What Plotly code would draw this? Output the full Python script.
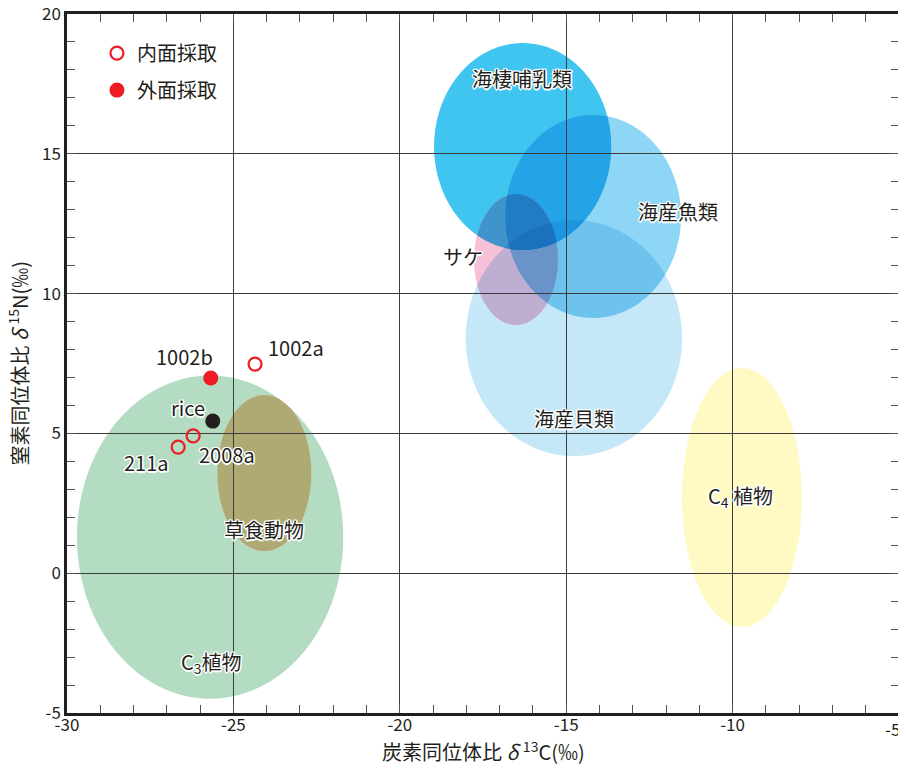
import numpy as np
import plotly.graph_objects as go
from itertools import combinations

# ---- axes ----
x_range = [-30, -5]
y_range = [-5, 20]
x_ticks = [-30, -25, -20, -15, -10, -5]
y_ticks = [-5, 0, 5, 10, 15, 20]
x_ticklabels = ["-30", "-25", "-20", "-15", "-10", "-5"]
y_ticklabels = ["-5", "0", "5", "10", "15", "20"]
x_minor = list(range(-30, -4))
y_minor = list(range(-5, 21))

# ---- regions (ellipses: center, radii) ----
region_names = ["C3植物", "草食動物", "C4植物", "海産貝類", "海産魚類", "海棲哺乳類", "サケ"]
region_cx = [-25.70, -24.07, -9.72, -14.77, -14.19, -16.31, -16.51]
region_cy = [1.29, 3.58, 2.71, 8.41, 12.76, 15.26, 11.22]
region_rx = [4.00, 1.41, 1.80, 3.25, 2.64, 2.66, 1.26]
region_ry = [5.78, 2.79, 4.63, 4.22, 3.63, 3.70, 2.34]
region_rgb = [(179, 220, 195), (250, 197, 150), (255, 249, 196), (197, 232, 248),
              (142, 214, 245), (64, 196, 240), (246, 192, 216)]
label_text = ["C<sub>3</sub>植物", "草食動物", "C<sub>4</sub> 植物", "海産貝類", "海産魚類", "海棲哺乳類", "サケ"]
label_x = [-25.67, -24.08, -9.75, -14.77, -11.64, -16.33, -18.10]
label_y = [-3.18, 1.55, 2.73, 5.55, 12.92, 17.68, 11.31]

# ---- samples ----
inner_names = ["1002a", "2008a", "211a"]
inner_x = [-24.35, -26.21, -26.66]
inner_y = [7.48, 4.91, 4.51]
outer_names = ["1002b"]
outer_x = [-25.68]
outer_y = [6.98]
rice_names = ["rice"]
rice_x = [-25.62]
rice_y = [5.44]
# label pixel offsets (dx, dy) relative to each point
point_label_shift = {"1002a": (41, 17), "2008a": (34, -19), "211a": (-32, -15),
                     "1002b": (-26, 22), "rice": (-25, 14)}

TXT = "#231f20"
CJK = "Noto Sans CJK JP, Noto Sans, sans-serif"
TICKFONT = "Liberation Sans Narrow, Noto Sans CJK JP, sans-serif"
HALO = ("white 1px 1px 0px, white -1px -1px 0px, white 1px -1px 0px, white -1px 1px 0px, "
        "white 0px 1.5px 0px, white 0px -1.5px 0px, white 1.5px 0px 0px, white -1.5px 0px 0px")

# ---- ellipses with multiply-style overlaps ----
N = 720
t = np.linspace(0, 2 * np.pi, N, endpoint=False)
n_reg = len(region_names)
ell = [(region_cx[i] + region_rx[i] * np.cos(t), region_cy[i] + region_ry[i] * np.sin(t))
       for i in range(n_reg)]


def inside(j, x, y):
    return ((x - region_cx[j]) / region_rx[j]) ** 2 + ((y - region_cy[j]) / region_ry[j]) ** 2 <= 1.0


shapes = []
for k in range(1, n_reg + 1):
    for S in combinations(range(n_reg), k):
        xs, ys = [], []
        for i in S:
            px, py = ell[i]
            mask = np.ones(N, dtype=bool)
            for j in S:
                if j != i:
                    mask &= inside(j, px, py)
            xs.append(px[mask])
            ys.append(py[mask])
        xs = np.concatenate(xs)
        ys = np.concatenate(ys)
        if len(xs) < 3:
            continue
        cxm, cym = xs.mean(), ys.mean()
        order = np.argsort(np.arctan2((ys - cym) * 27.96, (xs - cxm) * 33.28))
        xs, ys = xs[order], ys[order]
        col = np.array([255.0, 255.0, 255.0])
        for i in S:
            col = col * np.array(region_rgb[i]) / 255.0
        col = col.round().astype(int)
        path = "M " + " L ".join(f"{a:.4f},{b:.4f}" for a, b in zip(xs, ys)) + " Z"
        shapes.append(dict(type="path", xref="x", yref="y", path=path,
                           fillcolor=f"rgb({col[0]},{col[1]},{col[2]})",
                           line=dict(width=0), layer="below"))

fig = go.Figure()

fig.add_trace(go.Scatter(
    x=inner_x, y=inner_y, mode="markers", name="内面採取", legendgroup="a",
    marker=dict(symbol="circle-open", size=13, color="#ed1c24", line=dict(width=2.2, color="#ed1c24")),
))
fig.add_trace(go.Scatter(
    x=outer_x, y=outer_y, mode="markers", name="外面採取", legendgroup="b",
    marker=dict(symbol="circle", size=15, color="#ed1c24"),
))
fig.add_trace(go.Scatter(
    x=rice_x, y=rice_y, mode="markers", name="rice", showlegend=False,
    marker=dict(symbol="circle", size=15, color="#231f20"),
))

annotations = []
for names, xs_, ys_ in [(inner_names, inner_x, inner_y), (outer_names, outer_x, outer_y),
                        (rice_names, rice_x, rice_y)]:
    for n, xv, yv in zip(names, xs_, ys_):
        dx, dy = point_label_shift[n]
        annotations.append(dict(x=xv, y=yv, xref="x", yref="y", text=n, showarrow=False,
                                xshift=dx, yshift=dy,
                                font=dict(size=20, color=TXT, family=CJK, shadow=HALO)))

for txt, xv, yv in zip(label_text, label_x, label_y):
    annotations.append(dict(x=xv, y=yv, xref="x", yref="y", text=txt, showarrow=False,
                            font=dict(size=20, color=TXT, family=CJK, shadow=HALO)))

# last x tick label (drawn as annotation, nudged left so it stays inside the page edge)
annotations.append(dict(x=x_ticks[-1], y=0, xref="x", yref="paper", text=x_ticklabels[-1],
                        showarrow=False, xanchor="right", yanchor="top", yshift=-1, xshift=3,
                        font=dict(size=17, color=TXT, family=TICKFONT)))

# axis titles
annotations.append(dict(x=0.5, y=-0.055, xref="paper", yref="paper",
                        text="炭素同位体比 <i>δ</i> <sup>13</sup>C(‰)",
                        showarrow=False, xanchor="center", yanchor="middle",
                        font=dict(size=20, color=TXT, family=CJK)))
annotations.append(dict(x=-0.059, y=0.5, xref="paper", yref="paper",
                        text="窒素同位体比 <i>δ</i> <sup>15</sup>N(‰)",
                        showarrow=False, xanchor="center", yanchor="middle", textangle=-90,
                        font=dict(size=20, color=TXT, family=CJK)))

axis_common = dict(
    showgrid=True, gridcolor="#3c3c3c", gridwidth=1, zeroline=False,
    showline=True, linecolor=TXT, linewidth=2.5, mirror="ticks",
    ticks="inside", ticklen=8, tickcolor="#555", tickwidth=1,
    tickfont=dict(size=17, color=TXT, family=TICKFONT),
    ticklabeloverflow="allow", automargin=False,
)

fig.update_layout(
    width=906, height=771,
    margin=dict(l=59, r=15, t=6, b=66),
    paper_bgcolor="white", plot_bgcolor="white",
    shapes=shapes, annotations=annotations,
    xaxis=dict(range=x_range, tickvals=x_ticks[:-1], ticktext=x_ticklabels[:-1], ticklabelstandoff=-5,
               minor=dict(tickvals=x_minor, ticks="inside", ticklen=8, tickcolor="#555",
                          tickwidth=1, showgrid=False),
               **axis_common),
    yaxis=dict(range=y_range, tickvals=y_ticks, ticktext=y_ticklabels,
               minor=dict(tickvals=y_minor, ticks="inside", ticklen=8, tickcolor="#555",
                          tickwidth=1, showgrid=False),
               **axis_common),
    legend=dict(x=0.036, y=0.972, xanchor="left", yanchor="top", bgcolor="rgba(0,0,0,0)",
                font=dict(size=20, color=TXT, family=CJK), tracegroupgap=8),
    showlegend=True,
)

fig.write_html("out.html")
